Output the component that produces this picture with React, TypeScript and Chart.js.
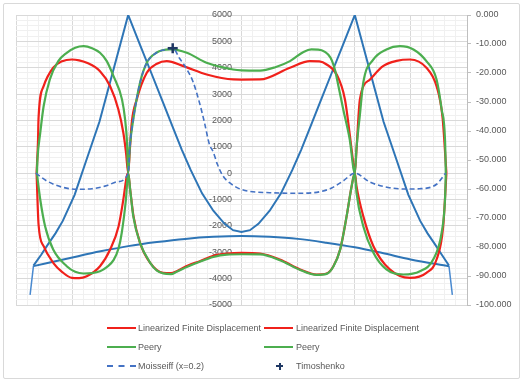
import React, { useEffect, useRef } from 'react';
import { Chart, registerables } from 'chart.js';

Chart.register(...registerables);

// ---- Data (x position along bridge, primary values = moment, secondary = deflection) ----
const lfdMaxX = [-363.5, -361, -360, -351, -334, -318, -301, -288, -274.5, -251, -233, -218.4, -209.6, -204.8, -201,
  -198, -194.7, -185.8, -168, -150, -132.6, -103, -61.7, -14.5, 0, 32.8, 86, 121.5, 138, 151, 168.8, 183.5, 192.4, 197, 201,
  204, 210, 228, 251, 275, 299, 328, 346, 356.7, 363.5];
const lfdMaxY = [0, 1200, 2100, 3300, 4000, 4250, 4313, 4280, 4188, 3870, 3300, 2417, 1533, 774, 0,
  900, 1912, 2796, 3808, 4150, 4250, 4060, 3744, 3555, 3550, 3555, 4000, 4250, 4240, 4123, 3744, 2796, 1404, 600, 0,
  900, 2796, 3555, 4060, 4260, 4313, 4000, 3300, 2100, 0];

const lfdMinX = [-363.5, -360, -351, -334, -318, -301, -288, -274.5, -251, -233, -218, -209.6, -203.5, -201,
  -197.5, -191.6, -180, -162, -139, -125, -115, -95, -74, -50, -26, 0, 33, 68, 104, 133, 151, 163, 175, 186.5, 195.4, 201,
  204, 216, 234, 263, 299, 328, 346, 357.8, 363.5];
const lfdMinY = [0, -1946, -2770, -3400, -3750, -3970, -3980, -3907, -3528, -2895, -2010, -998, -114, 0,
  -620, -1630, -2640, -3400, -3780, -3790, -3718, -3500, -3338, -3130, -3046, -3020, -3046, -3274, -3650, -3843, -3806, -3528, -2895, -1630, -490, 0,
  -490, -1630, -2770, -3650, -3970, -3780, -3274, -2010, 0];

const peeryMaxX = [-363, -362, -357, -351, -340, -325, -310, -295, -280, -265, -251, -239, -227, -212, -206.5, -203, -201,
  -198, -192, -180, -168, -151, -127, -97, -62, -15, 0, 33, 60, 86, 110, 124, 136, 148, 158, 166, 172, 180.5, 192, 201,
  204, 210, 216, 234, 257, 281, 305, 328, 346, 355, 361, 362.5];
const peeryMaxY = [0, 520, 1530, 2540, 3555, 4250, 4567, 4760, 4818, 4740, 4567, 4250, 3680, 2800, 2037, 1150, 0,
  1024, 2037, 3430, 4188, 4567, 4694, 4567, 4188, 3934, 3900, 3890, 4020, 4250, 4600, 4694, 4690, 4600, 4380, 3900, 3300, 2417, 1280, 0,
  940, 2210, 3430, 4313, 4694, 4818, 4694, 4250, 3555, 2417, 1280, 0];

const peeryMinX = [-363, -357, -348.4, -334, -310, -295, -280.5, -265, -251, -239, -227, -218, -212.4, -205, -201,
  -197.5, -192, -180, -162, -150, -139, -125, -115, -95, -74, -50, -26, 0, 33, 68, 104, 133, 151, 163, 175, 186.5, 195.4, 201,
  204, 216, 234, 257, 287, 316.5, 340, 355, 361, 362.5];
const peeryMinY = [0, -998, -2010, -2895, -3528, -3740, -3806, -3790, -3718, -3560, -3300, -2850, -2260, -998, 0,
  -620, -1630, -2640, -3400, -3700, -3800, -3830, -3740, -3540, -3360, -3180, -3090, -3075, -3080, -3300, -3670, -3860, -3820, -3540, -2900, -1630, -490, 0,
  -744, -2010, -3020, -3650, -3843, -3718, -3274, -2260, -998, 0];

const moisseiffX = [-365, -345, -320, -292, -265, -240, -221, -201,
  -198, -192, -180, -168, -151, -135, -122, -110, -98, -86, -75, -66, -57, -50, -43, -33, -20, 0, 50, 104, 140, 160, 180, 201,
  228, 260, 290, 316, 346, 362];
const moisseiffY = [0, -300, -520, -610, -590, -480, -330, 0,
  1024, 2037, 3430, 4188, 4567, 4690, 4740, 4360, 3980, 3470, 2710, 1950, 1100, 800, 350, -100, -380, -620, -740, -760, -700, -560, -300, 0,
  -340, -540, -600, -590, -420, 0];

const timoshenkoX = [-122];
const timoshenkoY = [4740];

const towerLineX = [-369, -355, -343, -330, -317, -296, -276, -252, -228, -201,
  -180, -160, -140, -120, -106, -90, -70, -50, -30, -15, 0, 15, 30, 50, 70, 90, 106, 120, 140, 160, 180, 201,
  228, 252, 276, 296, 317, 330, 343, 355, 368];
const towerLineY = [-86.4, -82.6, -79, -75.3, -71, -62, -50.5, -36.8, -19.5, 0,
  -10.3, -20, -29.8, -39.6, -46.4, -53.5, -61.5, -67.5, -72, -74.2, -74.8, -74.2, -72, -67.5, -61.5, -53.5, -46.4, -39.6, -29.8, -20, -10.3, 0,
  -19.5, -36.8, -50.5, -62, -71, -75.3, -79, -82.6, -86.4];

const archX = [-369, -300, -250, -201, -150, -100, -50, 0, 50, 100, 150, 201, 250, 300, 368];
const archY = [-86.6, -83.6, -81.5, -79.7, -78.3, -77.2, -76.5, -76.2, -76.5, -77.2, -78.5, -80.1, -82.1, -84.3, -86.6];

const endDropX = [-375, -369, null, 368, 374];
const endDropY = [-96.5, -86.5, null, -86.5, -96.5];

const legendLabels = ['Linearized Finite Displacement', 'Linearized Finite Displacement', 'Peery', 'Peery', 'Moisseiff (x=0.2)', 'Timoshenko'];

const RED = '#f0211b';
const GREEN = '#4cae4f';
const BLUE = '#2e75b6';
const DASH_BLUE = '#4472c4';
const NAVY = '#1f3864';
const TEXT = '#595959';
const FONT = '"Liberation Sans", Arial, sans-serif';

const pts = (xs: (number | null)[], ys: (number | null)[]) =>
  xs.map((x, i) => ({ x: x === null ? NaN : x, y: ys[i] === null ? null : ys[i] }));

const gridColor = (major: number) => (ctx: any) => {
  const v = ctx.tick ? ctx.tick.value : 0;
  const r = Math.abs(v % major);
  return r < 1e-6 || Math.abs(r - major) < 1e-6 ? '#d9d9d9' : '#f0f0f0';
};

export default function App() {
  const ref = useRef<HTMLCanvasElement>(null);

  useEffect(() => {
    document.body.style.margin = '0';
    const canvas = ref.current;
    if (!canvas) return;
    const smooth = { cubicInterpolationMode: 'monotone' as const, pointRadius: 0 };
    const chart = new Chart(canvas, {
      type: 'scatter',
      data: {
        datasets: [
          { label: legendLabels[5], data: pts(timoshenkoX, timoshenkoY), yAxisID: 'y', showLine: false,
            pointStyle: 'cross', pointRadius: 5, borderColor: NAVY, backgroundColor: NAVY, borderWidth: 2.5, order: 0 },
          { label: legendLabels[4], data: pts(moisseiffX, moisseiffY), yAxisID: 'y', showLine: true,
            borderColor: DASH_BLUE, borderWidth: 1.6, borderDash: [5, 3], ...smooth, order: 1 },
          { label: legendLabels[3], data: pts(peeryMinX, peeryMinY), yAxisID: 'y', showLine: true,
            borderColor: GREEN, borderWidth: 2.2, ...smooth, order: 2 },
          { label: legendLabels[2], data: pts(peeryMaxX, peeryMaxY), yAxisID: 'y', showLine: true,
            borderColor: GREEN, borderWidth: 2.2, ...smooth, order: 2 },
          { label: legendLabels[1], data: pts(lfdMinX, lfdMinY), yAxisID: 'y', showLine: true,
            borderColor: RED, borderWidth: 2.2, ...smooth, order: 3 },
          { label: legendLabels[0], data: pts(lfdMaxX, lfdMaxY), yAxisID: 'y', showLine: true,
            borderColor: RED, borderWidth: 2.2, ...smooth, order: 3 },
          { label: 'tower', data: pts(towerLineX, towerLineY), yAxisID: 'y2', showLine: true,
            borderColor: BLUE, borderWidth: 2, pointRadius: 0, tension: 0, order: 4 },
          { label: 'arch', data: pts(archX, archY), yAxisID: 'y2', showLine: true,
            borderColor: BLUE, borderWidth: 2, ...smooth, order: 4 },
          { label: 'ends', data: pts(endDropX, endDropY), yAxisID: 'y2', showLine: true, spanGaps: false,
            borderColor: '#4a8ad0', borderWidth: 1.5, pointRadius: 0, tension: 0, order: 4 },
        ],
      },
      options: {
        responsive: false,
        animation: false,
        devicePixelRatio: 1,
        layout: { padding: { left: 16, top: 15, right: 0, bottom: 80 } },
        plugins: { legend: { display: false }, tooltip: { enabled: false } },
        scales: {
          x: {
            type: 'linear', min: -400, max: 400, position: 'bottom',
            ticks: { display: false, stepSize: 20, autoSkip: false, maxTicksLimit: 100 },
            grid: { color: gridColor(100), drawTicks: false },
            border: { display: false },
            afterFit: (s: any) => { s.height = 0; },
          },
          yGrid: {
            type: 'linear', min: -5000, max: 6000, position: 'left',
            ticks: { display: false, stepSize: 200, autoSkip: false, maxTicksLimit: 100 },
            grid: { color: gridColor(1000), drawTicks: false },
            border: { display: false },
            afterFit: (s: any) => { s.width = 0; },
          },
          y: {
            type: 'linear', min: -5000, max: 6000, position: { x: -17 } as any,
            ticks: { stepSize: 1000, color: TEXT, font: { family: FONT, size: 9 }, callback: (v: any) => String(v) },
            grid: { display: false },
            border: { display: false },
          },
          y2: {
            type: 'linear', min: -100, max: 0, position: 'right',
            ticks: { stepSize: 10, color: TEXT, font: { family: FONT, size: 9 }, padding: 5,
              callback: (v: any) => Number(v).toFixed(3) },
            grid: { drawOnChartArea: false, tickLength: 4, color: '#bfbfbf' },
            border: { display: true, color: '#bfbfbf' },
            afterFit: (s: any) => { s.width = 58; },
          },
        },
      } as any,
    });
    return () => chart.destroy();
  }, []);

  const legendItems = [
    { label: legendLabels[0], color: RED, kind: 'line', lx: 107, tx: 138, y: 328 },
    { label: legendLabels[1], color: RED, kind: 'line', lx: 264, tx: 296, y: 328 },
    { label: legendLabels[2], color: GREEN, kind: 'line', lx: 107, tx: 138, y: 347 },
    { label: legendLabels[3], color: GREEN, kind: 'line', lx: 264, tx: 296, y: 347 },
    { label: legendLabels[4], color: DASH_BLUE, kind: 'dash', lx: 107, tx: 138, y: 366 },
    { label: legendLabels[5], color: NAVY, kind: 'cross', lx: 276, tx: 296, y: 366 },
  ];

  return (
    <div style={{ position: 'fixed', left: 0, top: 0, width: 525, height: 385, background: '#fff', fontFamily: FONT }}>
      <div style={{ position: 'absolute', left: 3, top: 3, width: 517, height: 376, border: '1px solid #d9d9d9', borderRadius: 2, boxSizing: 'border-box' }} />
      <canvas ref={ref} width={525} height={385} style={{ position: 'absolute', left: 0, top: 0, width: 525, height: 385 }} />
      {legendItems.map((it, i) => (
        <div key={i}>
          {it.kind === 'line' && (
            <div style={{ position: 'absolute', left: it.lx, top: it.y - 1, width: 29, height: 2, background: it.color }} />
          )}
          {it.kind === 'dash' && (
            <div style={{ position: 'absolute', left: it.lx, top: it.y - 1, width: 29, height: 0, borderTop: `2px dashed ${it.color}` }} />
          )}
          {it.kind === 'cross' && (
            <>
              <div style={{ position: 'absolute', left: it.lx, top: it.y - 1, width: 7, height: 2, background: it.color }} />
              <div style={{ position: 'absolute', left: it.lx + 2.5, top: it.y - 3.5, width: 2, height: 7, background: it.color }} />
            </>
          )}
          <div style={{ position: 'absolute', left: it.tx, top: it.y - 6, fontSize: 9, lineHeight: '12px', color: TEXT, whiteSpace: 'nowrap' }}>
            {it.label}
          </div>
        </div>
      ))}
    </div>
  );
}
